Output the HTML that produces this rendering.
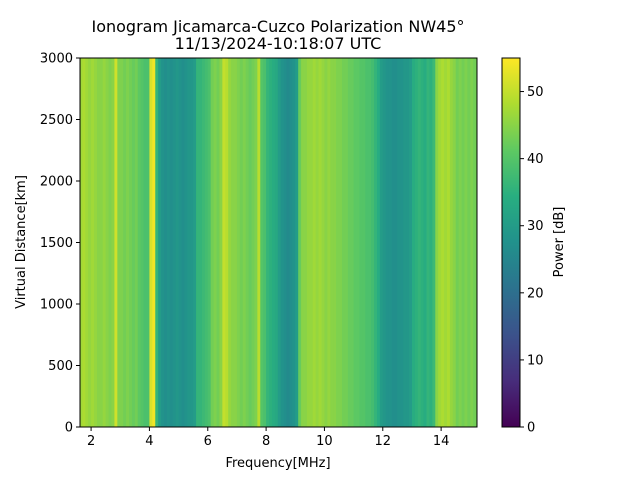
<!DOCTYPE html>
<html><head><meta charset="utf-8"><style>
body{margin:0;background:#fff;}
svg{display:block;font-family:"DejaVu Sans","Liberation Sans",sans-serif;}
</style></head><body>
<svg id="chart" width="640" height="480" viewBox="0 0 640 480">
<defs>
<linearGradient id="vir" x1="0" y1="1" x2="0" y2="0">
<stop offset="0" stop-color="#440154"/><stop offset="0.125" stop-color="#472d7b"/><stop offset="0.25" stop-color="#3b528b"/><stop offset="0.375" stop-color="#2c728e"/><stop offset="0.5" stop-color="#21918c"/><stop offset="0.625" stop-color="#28ae80"/><stop offset="0.75" stop-color="#5ec962"/><stop offset="0.875" stop-color="#addc30"/><stop offset="1" stop-color="#fde725"/>
</linearGradient>
</defs>
<text x="278" y="32" text-anchor="middle" font-size="16">Ionogram Jicamarca-Cuzco Polarization NW45°</text>
<text x="278" y="49" text-anchor="middle" font-size="16">11/13/2024-10:18:07 UTC</text>
<g id="heat"></g>
<rect x="80" y="58" width="397" height="369" fill="none" stroke="#000" stroke-width="1"/>
<g id="xticks"></g>
<g id="yticks"></g>
<text x="278" y="467" text-anchor="middle" font-size="13">Frequency[MHz]</text>
<text transform="translate(25,242) rotate(-90)" text-anchor="middle" font-size="13">Virtual Distance[km]</text>
<rect x="502" y="58" width="18" height="369" fill="url(#vir)" stroke="#000" stroke-width="1"/>
<g id="cticks"></g>
<text transform="translate(563,242) rotate(-90)" text-anchor="middle" font-size="13">Power [dB]</text>
</svg>
<script>
const freqStart = 1.6;
const freqStep = 0.1;
const columnPower = [47,48,47,46,47,46,45,45,46,45,44,
45,51,44,
44,43,44,43,42,43,41,40,39,39,
52,54,
36,30,28,27,28,27,28,29,28,27,28,29,29,30,
36,36,37,38,39,
43,44,43,45,
50,49,
46,45,45,44,43,44,43,42,43,44,
49,40,39,
36,35,34,33,
30,28,27,26,27,28,30,
42,45,
45,46,46,47,46,47,46,45,46,45,45,44,44,43,43,42,42,41,
41,40,40,39,39,38,36,34,
30,29,28,28,27,27,28,28,29,29,30,
34,35,36,35,34,36,35,37,
45,47,48,47,48,46,45,
43,44,43,44,43,44,43];
const xTicks = [2,4,6,8,10,12,14];
const yTicks = [0,500,1000,1500,2000,2500,3000];
const cTicks = [0,10,20,30,40,50];
const xMin = 1.62, xMax = 15.23, yMin = 0, yMax = 3000, cMin = 0, cMax = 55;
const X0=80, X1=477, Y0=427, Y1=58;
const xs = f => X0 + (f - xMin) / (xMax - xMin) * (X1 - X0);
const ys = d => Y0 - (d - yMin) / (yMax - yMin) * (Y0 - Y1);
const cs = v => Y0 - (v - cMin) / (cMax - cMin) * (Y0 - Y1);
const stops = ["#440154","#472d7b","#3b528b","#2c728e","#21918c","#28ae80","#5ec962","#addc30","#fde725"];
function hex(h){return [1,3,5].map(i=>parseInt(h.substr(i,2),16));}
function viridis(v){
  let t=Math.max(0,Math.min(1,(v-cMin)/(cMax-cMin)))*(stops.length-1);
  let i=Math.min(stops.length-2,Math.floor(t)), u=t-i;
  let a=hex(stops[i]), b=hex(stops[i+1]);
  return "rgb("+a.map((c,k)=>Math.round(c+(b[k]-c)*u)).join(",")+")";
}
const NS="http://www.w3.org/2000/svg";
function mk(tag,attrs,parent){const e=document.createElementNS(NS,tag);for(const k in attrs)e.setAttribute(k,attrs[k]);parent.appendChild(e);return e;}
const heat=document.getElementById('heat');
columnPower.forEach((p,i)=>{
  const f0=Math.max(xMin,freqStart+i*freqStep), f1=Math.min(xMax,freqStart+(i+1)*freqStep);
  const r=mk('rect',{x:xs(f0),y:ys(yMax),width:Math.max(0,xs(f1)-xs(f0))+0.4,height:ys(yMin)-ys(yMax),fill:viridis(p)},heat);
  
  
});
const xg=document.getElementById('xticks');
xTicks.forEach(t=>{
  const x=xs(t);
  const l=mk('line',{x1:x,x2:x,y1:Y0,y2:Y0+4,stroke:'#000'},xg);
  
  
  const tx=mk('text',{x:x,y:Y0+18,'text-anchor':'middle','font-size':13},xg);
  tx.textContent=t;
  
  
});
const yg=document.getElementById('yticks');
yTicks.forEach(t=>{
  const y=ys(t);
  const l=mk('line',{x1:X0-4,x2:X0,y1:y,y2:y,stroke:'#000'},yg);
  
  
  const tx=mk('text',{x:X0-7,y:y+4.5,'text-anchor':'end','font-size':13},yg);
  tx.textContent=t;
  
  
});
const cg=document.getElementById('cticks');
cTicks.forEach(t=>{
  const y=cs(t);
  const l=mk('line',{x1:520,x2:524,y1:y,y2:y,stroke:'#000'},cg);
  
  
  const tx=mk('text',{x:527,y:y+4.5,'font-size':13},cg);
  tx.textContent=t;
  
  
});
</script>
</body></html>
